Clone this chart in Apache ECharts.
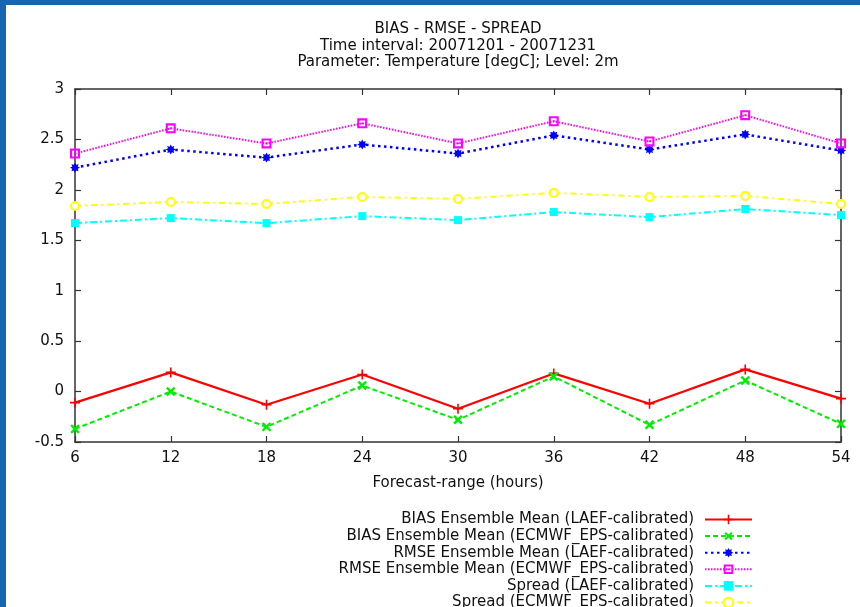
<!DOCTYPE html>
<html>
<head>
<meta charset="utf-8">
<script src="https://cdn.jsdelivr.net/npm/echarts@6/dist/echarts.min.js"></script>
<style>
  html, body { margin: 0; padding: 0; background: #fff; }
  #chart { width: 860px; height: 607px; }
</style>
</head>
<body>
<div id="chart"></div>
<script>
// Forecast ranges (hours)
const hours = [6, 12, 18, 24, 30, 36, 42, 48, 54];

// Verification scores, 2m temperature, December 2007
const biasLaef    = [-0.11, 0.19, -0.13, 0.17, -0.17, 0.18, -0.12, 0.22, -0.07];
const biasEcmwf   = [-0.37, 0.00, -0.35, 0.06, -0.28, 0.15, -0.33, 0.11, -0.32];
const rmseLaef    = [2.22, 2.40, 2.32, 2.45, 2.36, 2.54, 2.40, 2.55, 2.39];
const rmseEcmwf   = [2.36, 2.61, 2.46, 2.66, 2.46, 2.68, 2.48, 2.74, 2.46];
const spreadLaef  = [1.67, 1.72, 1.67, 1.74, 1.70, 1.78, 1.73, 1.81, 1.75];
const spreadEcmwf = [1.84, 1.88, 1.86, 1.93, 1.91, 1.97, 1.93, 1.94, 1.86];

const seriesNames = [
  'BIAS Ensemble Mean (LAEF-calibrated)',
  'BIAS Ensemble Mean (ECMWF_EPS-calibrated)',
  'RMSE Ensemble Mean (LAEF-calibrated)',
  'RMSE Ensemble Mean (ECMWF_EPS-calibrated)',
  'Spread (LAEF-calibrated)',
  'Spread (ECMWF_EPS-calibrated)'
];

const titleLines = [
  'BIAS - RMSE - SPREAD',
  'Time interval: 20071201 - 20071231',
  'Parameter: Temperature [degC]; Level: 2m'
];

const FONT = 'DejaVu Sans';
const TEXT = '#111';
const AXIS = '#333';

// point glyphs
const PLUS = 'path://M4.2,0H5.8V4.2H10V5.8H5.8V10H4.2V5.8H0V4.2H4.2Z';
const CROSS = 'path://M3.9,0H6.1V3.9H10V6.1H6.1V10H3.9V6.1H0V3.9H3.9Z';
const STAR = 'path://M10,5L7.8,6.2L8.54,8.54L6.2,7.8L5,10L3.8,7.8L1.46,8.54L2.2,6.2L0,5L2.2,3.8L1.46,1.46L3.8,2.2L5,0L6.2,2.2L8.54,1.46L7.8,3.8Z';
const BOX_DOT = 'path://M0,0H10V10H0ZM2.1,2.1V7.9H7.9V2.1ZM4.1,4.1H5.9V5.9H4.1Z';

const styles = [
  { color: '#ff0000', type: 'solid',        width: 2.2, symbol: PLUS,          size: 10, rotate: 0 },
  { color: '#00ee00', type: [5, 3],         width: 2,   symbol: CROSS,         size: 11, rotate: 45 },
  { color: '#0000ff', type: [2.5, 3.5],     width: 2.5, symbol: STAR,          size: 10, rotate: 0 },
  { color: '#ff00ff', type: [1.5, 1.5],     width: 2,   symbol: BOX_DOT,       size: 10, rotate: 0 },
  { color: '#00ffff', type: [7, 3, 2, 3],   width: 2,   symbol: 'rect',        size: 8,  rotate: 0 },
  { color: '#ffff00', type: [6, 4, 2, 4],   width: 2,   symbol: 'emptyCircle', size: 8,  rotate: 0 }
];

const values = [biasLaef, biasEcmwf, rmseLaef, rmseEcmwf, spreadLaef, spreadEcmwf];

const series = values.map((vals, i) => ({
  name: seriesNames[i],
  type: 'line',
  xAxisIndex: 0,
  yAxisIndex: 0,
  data: hours.map((h, k) => [h, vals[k]]),
  symbol: styles[i].symbol,
  symbolSize: styles[i].size,
  symbolRotate: styles[i].rotate,
  showAllSymbol: true,
  lineStyle: { color: styles[i].color, width: styles[i].width, type: styles[i].type },
  itemStyle: { color: styles[i].color, borderWidth: styles[i].symbol === 'emptyCircle' ? 2 : 0 },
  emphasis: { disabled: true },
  z: 2 + i
}));

// one right-aligned legend per row so the keys line up in a column
const legendRowTop = 512;
const legendRowStep = 16.6;
const legends = seriesNames.map((name, i) => ({
  data: [name],
  orient: 'vertical',
  right: 107,
  top: legendRowTop + i * legendRowStep,
  align: 'right',
  padding: 0,
  itemWidth: 47,
  itemHeight: 12,
  selectedMode: false,
  textStyle: { fontFamily: FONT, fontSize: 15, color: TEXT, lineHeight: 12, padding: [0, 6, 0, 0] }
}));

const xCommon = {
  type: 'value',
  min: 6,
  max: 54,
  interval: 6,
  axisLine: { show: true, onZero: false, lineStyle: { color: AXIS, width: 1.5 } },
  axisTick: { show: true, inside: true, length: 6, lineStyle: { color: AXIS, width: 1.2 } },
  splitLine: { show: false }
};
const yCommon = {
  type: 'value',
  min: -0.5,
  max: 3,
  interval: 0.5,
  axisLine: { show: true, onZero: false, lineStyle: { color: AXIS, width: 1.5 } },
  axisTick: { show: true, inside: true, length: 6, lineStyle: { color: AXIS, width: 1.2 } },
  splitLine: { show: false }
};

const option = {
  animation: false,
  backgroundColor: '#ffffff',
  title: {
    text: titleLines.join('\n'),
    left: 458,
    top: 21,
    textAlign: 'center',
    padding: 0,
    textStyle: { fontFamily: FONT, fontSize: 15, fontWeight: 'normal', color: TEXT, lineHeight: 16.5 }
  },
  grid: { left: 75, right: 19, top: 89, bottom: 165, containLabel: false },
  xAxis: [
    Object.assign({}, xCommon, {
      position: 'bottom',
      name: 'Forecast-range (hours)',
      nameLocation: 'middle',
      nameGap: 34,
      nameTextStyle: { fontFamily: FONT, fontSize: 15, color: TEXT },
      axisLabel: { fontFamily: FONT, fontSize: 15, color: TEXT, margin: 9 }
    }),
    Object.assign({}, xCommon, { position: 'top', axisLabel: { show: false } })
  ],
  yAxis: [
    Object.assign({}, yCommon, {
      position: 'left',
      axisLabel: { fontFamily: FONT, fontSize: 15, color: TEXT, margin: 11 }
    }),
    Object.assign({}, yCommon, { position: 'right', axisLabel: { show: false } })
  ],
  legend: legends,
  graphic: [
    { type: 'rect', shape: { x: 0, y: 0, width: 860, height: 5 }, style: { fill: '#1766b0' }, z: 100 },
    { type: 'rect', shape: { x: 0, y: 0, width: 6, height: 607 }, style: { fill: '#1766b0' }, z: 100 }
  ],
  series: series
};

const chart = echarts.init(document.getElementById('chart'), null, { renderer: 'canvas' });
chart.setOption(option);
</script>
</body>
</html>
